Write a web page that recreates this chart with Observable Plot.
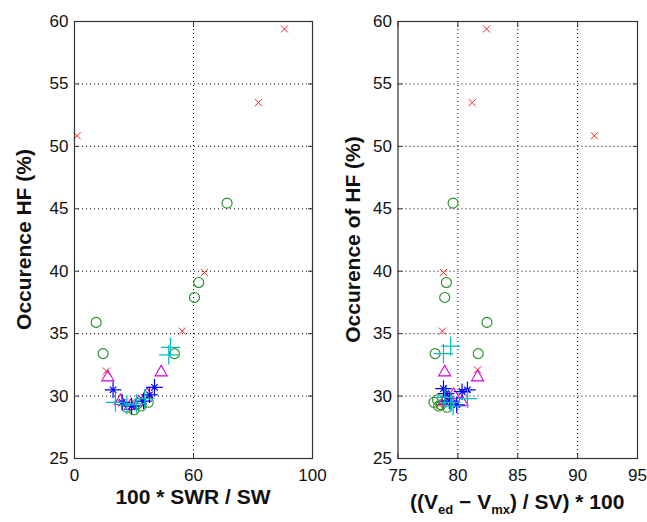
<!DOCTYPE html>
<html><head><meta charset="utf-8">
<script src="https://cdn.jsdelivr.net/npm/d3@7"></script>
<script src="https://cdn.jsdelivr.net/npm/@observablehq/plot@0.6"></script>
<style>
body{margin:0;background:#fff;}
#wrap{position:relative;width:647px;height:522px;overflow:hidden;background:#fff;}
#wrap svg{position:absolute;top:0;overflow:visible;}
</style></head><body><div id="wrap"></div>
<script>
// ---- axes / ticks ----
const yTicks = [25, 30, 35, 40, 45, 50, 55, 60];
const yGrid = [30, 35, 40, 45, 50, 55];
const leftXTicks = [0, 50, 100];
const leftXTickLabels = ["0", "60", "100"];
const leftXGrid = [50];
const rightXTicks = [75, 80, 85, 90, 95];
const rightXGrid = [80, 85, 90];
const leftYLabel = "Occurence HF (%)";
const rightYLabel = "Occurence of HF (%)";
const leftXLabel = "100 * SWR / SW";

// ---- left panel series ----
const leftRedX   = [1.1, 88.2, 77.3, 54.6, 45.3, 13.4, 19.8];
const leftRedY   = [50.85, 59.4, 53.5, 39.9, 35.2, 32.0, 29.4];
const leftGreenX = [64.1, 52.2, 50.4, 42.0, 12.0, 9.1, 22.0, 25.0, 28.0, 31.0, 26.5];
const leftGreenY = [45.45, 39.1, 37.9, 33.4, 33.4, 35.9, 29.1, 28.9, 29.2, 29.5, 29.4];
const leftMagX   = [14.0, 36.4, 19.3, 30.5, 27.0, 23.5];
const leftMagY   = [31.5, 31.9, 29.6, 30.1, 29.5, 29.2];
const leftBlueX  = [16.2, 33.6, 24.0, 29.0, 31.5, 20.0];
const leftBlueY  = [30.5, 30.7, 29.2, 29.6, 30.1, 29.5];
const leftCyanX  = [40.3, 39.6, 17.2, 26.0, 29.5, 22.0];
const leftCyanY  = [33.9, 33.3, 29.5, 29.4, 29.8, 29.3];

// ---- right panel series ----
const rightRedX   = [82.4, 81.2, 91.4, 78.8, 78.7, 81.65, 78.5];
const rightRedY   = [59.4, 53.5, 50.85, 39.9, 35.2, 32.1, 29.3];
const rightGreenX = [79.6, 79.04, 78.9, 82.43, 78.1, 81.7, 78.0, 78.3, 78.6, 79.1, 78.4];
const rightGreenY = [45.45, 39.1, 37.9, 35.9, 33.4, 33.4, 29.5, 29.7, 29.3, 29.1, 29.2];
const rightMagX   = [78.9, 81.65, 80.35, 79.65, 79.3, 78.9];
const rightMagY   = [31.9, 31.5, 29.5, 30.1, 29.8, 29.6];
const rightBlueX  = [78.8, 80.8, 80.35, 79.9, 79.0, 79.3];
const rightBlueY  = [30.6, 30.5, 30.35, 29.3, 30.2, 29.6];
const rightCyanX  = [78.8, 79.4, 80.8, 79.4, 78.9, 79.6];
const rightCyanY  = [33.4, 34.0, 29.8, 29.5, 29.9, 29.2];

const colors = {red: "#ff2020", green: "#1f8f1f", magenta: "#d400d4", blue: "#0000ff", cyan: "#00bcbc"};

function pts(xs, ys) { return xs.map((x, i) => ({x, y: ys[i]})); }

function seriesMarks(s) {
  return [
    Plot.dot(pts(s.redX, s.redY), {x: "x", y: "y", symbol: "times", r: 3.3, stroke: colors.red, strokeWidth: 1}),
    Plot.dot(pts(s.greenX, s.greenY), {x: "x", y: "y", symbol: "circle", r: 5, stroke: colors.green, strokeWidth: 1.1, fill: "none"}),
    Plot.dot(pts(s.magX, s.magY), {x: "x", y: "y", symbol: "triangle", r: 4.5, stroke: colors.magenta, strokeWidth: 1.1, fill: "none"}),
    Plot.dot(pts(s.blueX, s.blueY), {x: "x", y: "y", symbol: "plus", r: 5.4, stroke: colors.blue, strokeWidth: 1.2}),
    Plot.dot(pts(s.blueX, s.blueY), {x: "x", y: "y", symbol: "times", r: 3.0, stroke: colors.blue, strokeWidth: 1.2}),
    Plot.dot(pts(s.cyanX, s.cyanY), {x: "x", y: "y", symbol: "plus", r: 6.2, stroke: colors.cyan, strokeWidth: 1.2})
  ];
}

function panel(opt) {
  const svg = Plot.plot({
    width: opt.width, height: 522,
    marginLeft: opt.marginLeft, marginRight: opt.marginRight, marginTop: 21, marginBottom: 64,
    style: {fontFamily: "'Liberation Sans', Arial, sans-serif", fontSize: "17px", color: "#111", background: "transparent", overflow: "visible"},
    x: {domain: opt.xDomain},
    y: {domain: [25, 60]},
    marks: [
      Plot.gridY(yGrid, {stroke: "#000", strokeOpacity: 1, strokeDasharray: "1,3"}),
      Plot.gridX(opt.xGrid, {stroke: "#000", strokeOpacity: 1, strokeDasharray: "1,3"}),
      ...seriesMarks(opt.series),
      Plot.axisY(yTicks, {anchor: "left", tickSize: -5, tickPadding: 11, label: null, stroke: "#333"}),
      Plot.axisY(yTicks, {anchor: "right", tickSize: -5, tickFormat: () => "", label: null, stroke: "#333"}),
      Plot.axisX(opt.xTicks, {anchor: "bottom", tickSize: -5, tickPadding: 15, tickFormat: opt.xFormat, label: null, stroke: "#333"}),
      Plot.axisX(opt.xTicks, {anchor: "top", tickSize: -5, tickFormat: () => "", label: null, stroke: "#333"}),
      Plot.frame({stroke: "#333", strokeWidth: 1.2})
    ]
  });
  svg.style.left = opt.left + "px";
  const sel = d3.select(svg);
  const cy = (21 + 458) / 2;
  sel.append("text")
    .attr("transform", `translate(${opt.yLabelX},${cy}) rotate(-90)`)
    .attr("text-anchor", "middle").attr("dominant-baseline", "central")
    .attr("font-weight", "bold").attr("font-size", 21).attr("fill", "#111")
    .text(opt.yLabel);
  opt.xLabel(sel, opt.marginLeft + (opt.width - opt.marginLeft - opt.marginRight) / 2);
  return svg;
}

const wrap = document.getElementById("wrap");
wrap.appendChild(panel({
  left: 0, width: 323, marginLeft: 74, marginRight: 11,
  xDomain: [0, 100], xTicks: leftXTicks, xGrid: leftXGrid,
  xFormat: d => leftXTickLabels[leftXTicks.indexOf(d)],
  yLabel: leftYLabel, yLabelX: 23,
  series: {redX: leftRedX, redY: leftRedY, greenX: leftGreenX, greenY: leftGreenY, magX: leftMagX, magY: leftMagY,
           blueX: leftBlueX, blueY: leftBlueY, cyanX: leftCyanX, cyanY: leftCyanY},
  xLabel: (sel, cx) => sel.append("text").attr("x", cx).attr("y", 504).attr("text-anchor", "middle")
    .attr("font-weight", "bold").attr("font-size", 21).attr("fill", "#111").text(leftXLabel)
}));
wrap.appendChild(panel({
  left: 323, width: 324, marginLeft: 74.5, marginRight: 10,
  xDomain: [75, 95], xTicks: rightXTicks, xGrid: rightXGrid,
  xFormat: d => String(d),
  yLabel: rightYLabel, yLabelX: 29,
  series: {redX: rightRedX, redY: rightRedY, greenX: rightGreenX, greenY: rightGreenY, magX: rightMagX, magY: rightMagY,
           blueX: rightBlueX, blueY: rightBlueY, cyanX: rightCyanX, cyanY: rightCyanY},
  xLabel: (sel, cx) => {
    const t = sel.append("text").attr("x", cx).attr("y", 509).attr("text-anchor", "middle")
      .attr("font-weight", "bold").attr("font-size", 21).attr("fill", "#111");
    t.append("tspan").text("((V");
    t.append("tspan").attr("font-size", 13).attr("dy", 5).text("ed");
    t.append("tspan").attr("dy", -5).text(" \u2212 V");
    t.append("tspan").attr("font-size", 13).attr("dy", 5).text("mx");
    t.append("tspan").attr("dy", -5).text(") / SV) * 100");
  }
}));
</script>
</body></html>
